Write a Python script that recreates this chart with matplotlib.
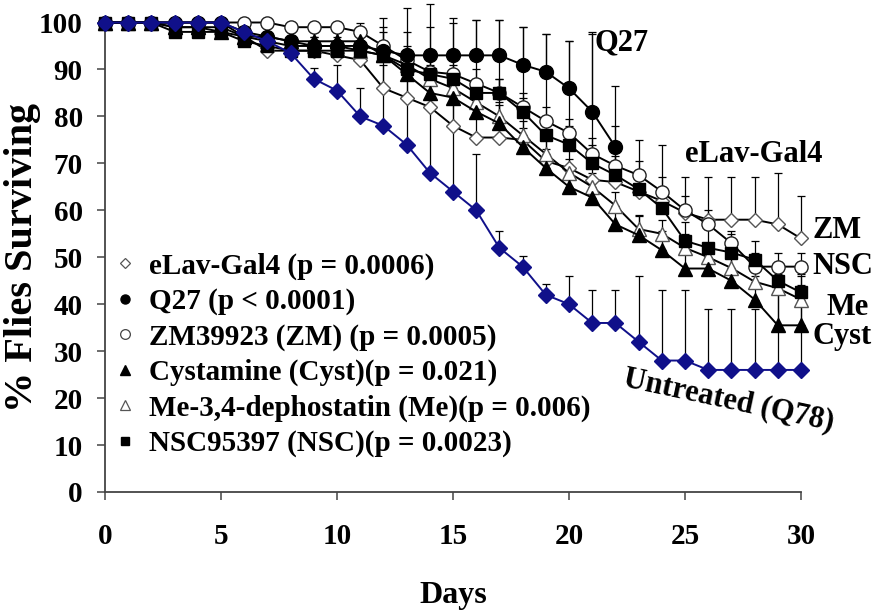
import numpy as np
import matplotlib
matplotlib.use("Agg")
import matplotlib.pyplot as plt
from matplotlib.lines import Line2D

plt.rcParams['font.family'] = ['Liberation Serif', 'DejaVu Serif']
plt.rcParams['font.weight'] = 'bold'

days = list(range(31))
days_q27 = list(range(23))

untreated = [100, 100, 100, 100, 100, 100, 98, 96, 93.5, 88, 85.5, 80, 78, 74, 68, 64, 60, 52, 48, 42,
             40, 36, 36, 32, 28, 28, 26, 26, 26, 26, 26]
untreated_err = [0, 0, 0, 0, 0, 0, 1, 1.5, 2, 2.3, 5.5, 6, 23, 29, 36, 37, 12, 3.5, 2.3, 2.3,
                 6, 7, 7, 14, 15, 15, 13, 13, 13, 17, 17]

elav = [100, 100, 100, 100, 100, 100, 97, 94, 94, 94, 93, 92, 86, 84, 82, 78, 75.5, 75.5, 75, 70.5,
        69, 66.5, 66, 64, 62, 59.5, 58, 58, 58, 57, 54]
elav_err = [0, 0, 0, 0, 0, 0, 1, 2, 2, 2, 3, 3, 5, 6, 6, 8, 25, 25, 24, 27,
            27, 31, 12, 11, 12, 7.5, 9, 9, 9, 11, 9]

q27 = [100, 100, 100, 100, 100, 100, 98, 97, 96, 95, 95, 95, 94, 93, 93, 93, 93, 93, 91, 89.5,
       86, 81, 73.5]
q27_err = [0, 0, 0, 0, 0, 0, 1, 1, 2, 2, 3, 4, 5, 5, 6, 7, 7.5, 7.5, 8, 8, 10, 17, 13]

zm = [100, 100, 100, 100, 100, 100, 100, 100, 99, 99, 99, 98, 95, 92, 89.5, 89, 87, 85, 82, 79,
      76.5, 72, 69.5, 67.5, 64, 60, 57, 53, 48, 48, 48]
zm_err = [0, 0, 0, 0, 0, 0, 0, 0, 1, 1, 1, 2, 3, 3, 3, 3, 3, 3, 3, 3,
          3, 3.5, 3, 3, 3, 3, 3, 2.5, 3, 3, 3]

cyst = [100, 100, 100, 99, 99, 98, 97, 97, 96, 96, 96, 96, 93, 89, 85, 84, 81, 78.5, 73.5, 69,
        65, 62.7, 57, 54.7, 51.5, 47.6, 47.6, 45, 41, 35.5, 35.5]
cyst_err = [0, 0, 0, 1, 1, 1, 1, 1, 2, 2, 2, 2, 3, 3, 4, 4, 4, 4, 4, 4,
            4, 4, 4, 4, 4, 5, 5, 5, 5, 10.5, 10.5]

me = [100, 100, 100, 99, 99, 99, 97, 96, 95, 95, 95, 94, 93, 91, 88, 86, 83, 80, 76, 72,
      68, 65, 61, 56, 55, 52, 50, 47.7, 44.8, 43.4, 41]
me_err = [0, 0, 0, 1, 1, 1, 1, 1, 2, 2, 2, 2, 3, 3, 3, 3, 3, 3, 3, 3,
          3, 3, 3, 3, 3, 3, 3, 3, 3, 3, 3]

nsc = [100, 100, 100, 98, 98, 98, 96, 95, 94, 94, 94, 94, 93, 90, 89, 88, 85, 85, 81, 76,
       74, 70, 67.5, 64.5, 60.5, 53.5, 52, 51, 49.5, 45, 42.5]
nsc_err = [0, 0, 0, 1, 1, 1, 1, 1, 2, 2, 2, 2, 2, 3, 3, 3, 3, 3, 3, 3,
           4, 4, 4, 4, 4, 4, 4, 4, 4, 4, 4]

legend_labels = ["eLav-Gal4 (p = 0.0006)", "Q27 (p < 0.0001)", "ZM39923 (ZM) (p = 0.0005)",
                 "Cystamine (Cyst)(p = 0.021)", "Me-3,4-dephostatin (Me)(p = 0.006)",
                 "NSC95397 (NSC)(p = 0.0023)"]

BLUE = '#10108a'

fig = plt.figure(figsize=(8.73, 6.11), dpi=100)
ax = fig.add_axes([105 / 873, 1 - 492 / 611, 696 / 873, 469.5 / 611])


def draw_err(x, y, e):
    x = np.asarray(x, float)
    y = np.asarray(y, float)
    e = np.asarray(e, float)
    m = e > 0
    eb = ax.errorbar(x[m], y[m], yerr=[np.zeros(m.sum()), e[m]], fmt='none', ecolor='black',
                     elinewidth=0.9, capsize=3, capthick=0.9, zorder=2)
    for a in list(eb.lines[1]) + list(eb.lines[2]):
        a.set_clip_on(False)


series = [
    (days, elav, elav_err, dict(marker='D', ms=7.5, mfc='white', mec='#555555', mew=1.0, color='black')),
    (days, zm, zm_err, dict(marker='o', ms=9.5, mfc='white', mec='#222222', mew=1.0, color='black')),
    (days, me, me_err, dict(marker='^', ms=9.5, mfc='white', mec='#555555', mew=1.0, color='black')),
    (days, cyst, cyst_err, dict(marker='^', ms=10.5, mfc='black', mec='black', color='black')),
    (days, nsc, nsc_err, dict(marker='s', ms=9, mfc='black', mec='black', color='black')),
    (days_q27, q27, q27_err, dict(marker='o', ms=10, mfc='black', mec='black', color='black')),
    (days, untreated, untreated_err, dict(marker='D', ms=8, mfc=BLUE, mec=BLUE, color=BLUE)),
]

for x, y, e, st in series:
    draw_err(x, y, e)
for i, (x, y, e, st) in enumerate(series):
    ax.plot(x, y, lw=1.4, clip_on=False, zorder=3 + i, **st)

ax.set_xlim(0, 30)
ax.set_ylim(0, 100)
ax.set_xticks(range(0, 31, 5))
ax.set_yticks(range(0, 101, 10))
ax.spines['top'].set_visible(False)
ax.spines['right'].set_visible(False)
for s in ('left', 'bottom'):
    ax.spines[s].set_color('#444444')
    ax.spines[s].set_linewidth(1.3)
ax.tick_params(axis='both', direction='out', length=6, width=1.1, color='#444444', labelsize=21)
ax.tick_params(axis='x', pad=16)
ax.tick_params(axis='y', pad=10)

ax.set_xlabel('Days', fontsize=23, fontweight='bold')
ax.xaxis.set_label_coords(0.5, -0.19)
ax.set_ylabel('% Flies Surviving', fontsize=29, fontweight='bold')
ax.yaxis.set_label_coords(-0.092, 0.5)

handles = [
    Line2D([], [], ls='none', marker='D', ms=5.5, mfc='white', mec='#555555', mew=0.9),
    Line2D([], [], ls='none', marker='o', ms=6.5, mfc='black', mec='black'),
    Line2D([], [], ls='none', marker='o', ms=7, mfc='white', mec='#444444', mew=0.9),
    Line2D([], [], ls='none', marker='^', ms=7, mfc='black', mec='black'),
    Line2D([], [], ls='none', marker='^', ms=7, mfc='white', mec='#555555', mew=0.9),
    Line2D([], [], ls='none', marker='s', ms=6, mfc='black', mec='black'),
]
ax.legend(handles, legend_labels, loc='upper left', bbox_to_anchor=(0.017, 0.51),
          frameon=False, fontsize=21, handlelength=0.55, handletextpad=0.55,
          labelspacing=0.28, borderpad=0, borderaxespad=0)

lab = dict(fontsize=22, fontweight='bold', ha='left', va='center', clip_on=False)
ax.text(21.1, 95.6, 'Q27', **lab)
ax.text(25.0, 71.8, 'eLav-Gal4', **lab)
ax.text(30.5, 55.8, 'ZM', **lab)
ax.text(30.5, 48.0, 'NSC', **lab)
ax.text(31.1, 39.2, 'Me', **lab)
ax.text(30.5, 33.1, 'Cyst', **lab)
ax.text(26.9, 19.6, 'Untreated (Q78)', fontsize=22, fontweight='bold', ha='center', va='center',
        rotation=-12, rotation_mode='anchor', clip_on=False)

fig.savefig('out.png', dpi=100)
